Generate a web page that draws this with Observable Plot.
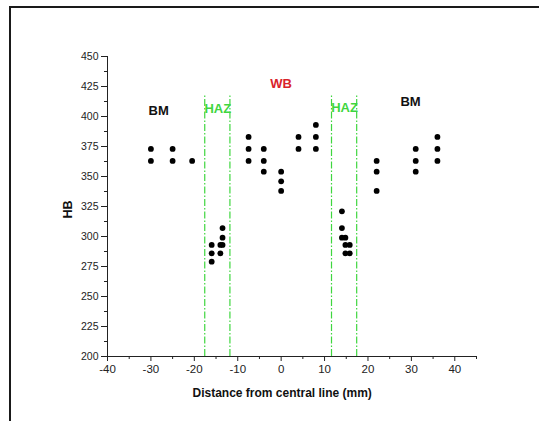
<!DOCTYPE html>
<html>
<head>
<meta charset="utf-8">
<script src="https://cdn.jsdelivr.net/npm/d3@7"></script>
<script src="https://cdn.jsdelivr.net/npm/@observablehq/plot@0.6"></script>
<style>
  html, body { margin: 0; padding: 0; background: #fff; overflow: hidden; }
  #wrap { position: relative; width: 539px; height: 421px; }
  #border { position: absolute; left: 9px; top: 6px; width: 600px; height: 500px;
            border-left: 2px solid #1a1a1a; border-top: 2px solid #1a1a1a; pointer-events: none; }
</style>
</head>
<body>
<div id="wrap"><div id="border"></div></div>
<script>
// Measured hardness points (distance mm, HB)
const distance = [
  -30, -30, -25, -25, -20.5,
  -16, -16, -16, -14, -14, -13.5, -13.5, -13.5,
  -7.5, -7.5, -7.5, -4, -4, -4, 0, 0, 0, 4, 4, 8, 8, 8,
  14, 14, 14, 14.8, 14.8, 14.8, 15.8, 15.8,
  22, 22, 22, 31, 31, 31, 36, 36, 36
];
const hardness = [
  373, 363, 373, 363, 363,
  293, 286, 279, 293, 286, 307, 299, 293,
  383, 373, 363, 373, 363, 354, 354, 346, 338, 383, 373, 393, 383, 373,
  321, 307, 299, 299, 293, 286, 293, 286,
  363, 354, 338, 373, 363, 354, 383, 373, 363
];
// HAZ boundary lines
const hazBounds = [-17.6, -11.8, 11.6, 17.4];
const hazTop = 417.5;
// Zone labels
const zoneText = ["BM", "HAZ", "WB", "HAZ", "BM"];
const zoneX = [-28.2, -14.6, 0, 14.6, 29.8];
const zoneY = [405, 406.5, 427, 407.5, 412];
// Axis ticks
const xMajor = [-40, -30, -20, -10, 0, 10, 20, 30, 40];
const xMinor = [-35, -25, -15, -5, 5, 15, 25, 35, 45];
const yMajor = [200, 225, 250, 275, 300, 325, 350, 375, 400, 425, 450];
const yMinor = [212.5, 237.5, 262.5, 287.5, 312.5, 337.5, 362.5, 387.5, 412.5, 437.5];

const points = distance.map((d, i) => ({x: d, y: hardness[i]}));
const zones = zoneText.map((t, i) => ({t, x: zoneX[i], y: zoneY[i]}));
const green = "#3fd63f", red = "#d9232b";

const chart = Plot.plot({
  width: 539,
  height: 421,
  marginLeft: 107,
  marginRight: 63,
  marginTop: 56,
  marginBottom: 65,
  style: {fontFamily: "'Liberation Sans', Arial, sans-serif", background: "transparent", overflow: "visible"},
  x: {domain: [-40, 45]},
  y: {domain: [200, 450]},
  marks: [
    Plot.ruleX(hazBounds, {x: d => d, y1: 200, y2: hazTop, stroke: green, strokeWidth: 1.2, strokeDasharray: "7,2,1.5,2"}),
    Plot.axisX({ticks: xMajor, tickSize: 5, tickPadding: 3, fontSize: 11.5, color: "#222", label: null, tickFormat: d => String(d)}),
    Plot.axisX({ticks: xMinor, tickSize: 3, tickFormat: () => "", color: "#222", label: null}),
    Plot.axisY({ticks: yMajor, tickSize: 6, tickPadding: 3, fontSize: 10.5, color: "#222", label: null, tickFormat: d => String(d)}),
    Plot.axisY({ticks: yMinor, tickSize: 3, tickFormat: () => "", color: "#222", label: null}),
    Plot.ruleY([200], {x1: -40, x2: 45, stroke: "#222"}),
    Plot.ruleX([-40], {y1: 200, y2: 450, stroke: "#222"}),
    Plot.dot(points, {x: "x", y: "y", r: 2.9, fill: "black", stroke: null}),
    Plot.text(zones, {x: "x", y: "y", text: "t", fontSize: 13, fontWeight: "bold",
      fill: d => d.t === "WB" ? red : d.t === "HAZ" ? green : "#111"}),
    Plot.text(["HB"], {frameAnchor: "left", dx: -40, dy: 12, rotate: -90, fontSize: 12.5, fontWeight: "bold", fill: "#111"}),
    Plot.text(["Distance from central line (mm)"], {x: 0, y: 200, dy: 37, dx: 1, fontSize: 12, fontWeight: "bold", fill: "#111"})
  ]
});
document.getElementById("wrap").appendChild(chart);
chart.style.position = "absolute";
chart.style.left = "0";
chart.style.top = "0";
</script>
</body>
</html>
